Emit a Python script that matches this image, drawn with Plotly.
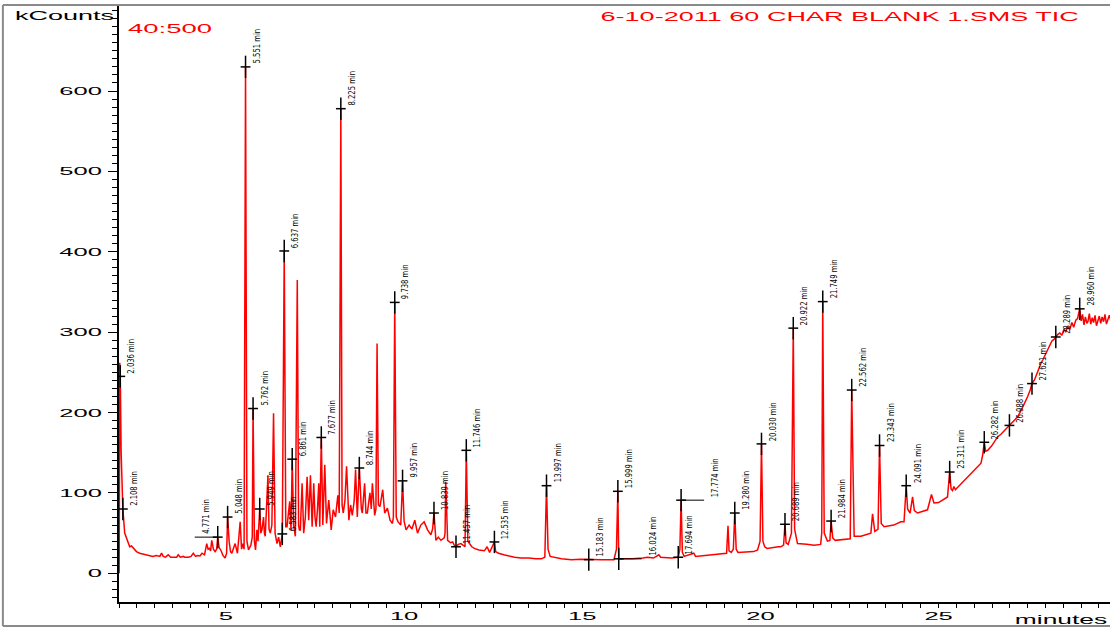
import plotly.graph_objects as go

# ---- TIC trace: retention time (minutes) and intensity (kCounts) ----
trace_t = [
    2.005, 2.012, 2.022, 2.060, 2.085, 2.16, 2.254, 2.30, 2.35, 2.42, 2.49, 2.58, 2.668, 2.76,
    2.865, 2.95, 3.05, 3.146, 3.194, 3.24, 3.30, 3.38, 3.45, 3.55, 3.617, 3.662, 3.72, 3.80,
    3.85, 3.95, 4.02, 4.085, 4.15, 4.20, 4.273, 4.33, 4.40, 4.462, 4.50, 4.535, 4.57, 4.603,
    4.65, 4.696, 4.740, 4.81, 4.856, 4.92, 4.977, 5.02, 5.09, 5.130, 5.166, 5.259, 5.324,
    5.40, 5.44, 5.476, 5.51, 5.59, 5.634, 5.70, 5.74, 5.80, 5.831, 5.87, 5.90, 5.98, 6.011,
    6.056, 6.08, 6.104, 6.18, 6.21, 6.245, 6.29, 6.337, 6.38, 6.434, 6.48, 6.527, 6.68,
    6.715, 6.75, 6.789, 6.828, 6.90, 6.949, 7.003, 7.04, 7.062, 7.09, 7.138, 7.183, 7.23,
    7.279, 7.324, 7.372, 7.42, 7.465, 7.50, 7.532, 7.570, 7.606, 7.634, 7.72, 7.775, 7.823,
    7.887, 7.955, 8.011, 8.076, 8.141, 8.18, 8.26, 8.293, 8.34, 8.386, 8.451, 8.50, 8.546,
    8.60, 8.639, 8.687, 8.80, 8.828, 8.893, 8.93, 8.969, 9.042, 9.08, 9.11, 9.175, 9.21,
    9.242, 9.28, 9.324, 9.40, 9.456, 9.532, 9.606, 9.673, 9.70, 9.78, 9.831, 9.907, 10.00,
    10.056, 10.141, 10.22, 10.301, 10.377, 10.47, 10.563, 10.659, 10.752, 10.80, 10.893,
    10.96, 11.034, 11.127, 11.15, 11.169, 11.20, 11.222, 11.30, 11.363, 11.42, 11.52, 11.597,
    11.710, 11.79, 11.831, 11.90, 11.972, 12.10, 12.254, 12.33, 12.40, 12.57, 12.65, 12.80,
    12.913, 13.10, 13.287, 13.50, 13.70, 13.85, 13.95, 14.04, 14.10, 14.414, 14.70, 14.95,
    15.30, 15.55, 15.89, 15.96, 16.10, 16.40, 16.70, 16.83, 17.00, 17.15, 17.20, 17.50,
    17.74, 17.81, 17.86, 18.13, 18.18, 18.32, 18.70, 18.95, 19.05, 19.09, 19.12, 19.18,
    19.24, 19.32, 19.37, 19.70, 19.81, 19.92, 19.99, 20.07, 20.12, 20.19, 20.50, 20.57,
    20.65, 20.72, 20.78, 20.87, 20.96, 21.04, 21.30, 21.51, 21.69, 21.72, 21.79, 21.88,
    21.95, 22.03, 22.10, 22.25, 22.52, 22.63, 22.82, 23.10, 23.146, 23.21, 23.30, 23.39,
    23.47, 23.74, 23.94, 24.03, 24.13, 24.20, 24.27, 24.32, 24.41, 24.69, 24.80, 24.87,
    25.00, 25.15, 25.25, 25.35, 25.39, 25.43, 25.47, 25.60, 25.70, 25.82, 25.95, 26.05,
    26.19, 26.24, 26.32, 26.38, 26.48, 26.58, 26.66, 26.75, 26.85, 26.94, 27.05, 27.14,
    27.22, 27.32, 27.42, 27.50, 27.57, 27.69, 27.76, 27.82, 27.87, 27.93, 27.99, 28.06,
    28.12, 28.18, 28.24, 28.34, 28.40, 28.46, 28.52, 28.57, 28.62, 28.68, 28.74, 28.79,
    28.85, 28.90, 29.00, 29.04, 29.08, 29.12, 29.16, 29.19, 29.23, 29.27, 29.31, 29.35,
    29.39, 29.43, 29.47, 29.51, 29.55, 29.59, 29.63, 29.67, 29.71, 29.75, 29.79, 29.83,
]
trace_c = [
    0, 170, 262, 150, 100, 50, 37, 33, 34, 30, 27, 25, 24, 23,
    22, 21, 22, 21, 25, 21, 20, 23, 20, 20, 20, 23, 20, 21,
    20, 20, 21, 25, 21, 22, 21.5, 25, 23, 37, 30, 31, 28, 41,
    30, 27, 30, 32, 29, 22, 19, 25, 40, 27, 25, 37, 25,
    64, 30, 37, 30, 40, 29, 35, 45, 40, 29, 54, 40, 50, 54,
    70, 50, 46, 122, 55, 50, 60, 199, 50, 37, 45, 33, 58,
    58, 70, 89, 54, 60, 46, 365, 60, 54, 54, 112, 50, 70,
    120, 66, 122, 58, 112, 70, 58, 80, 112, 58, 60, 135, 62,
    91, 54, 79, 70, 97, 75, 85, 75, 90, 133, 66, 85, 72,
    90, 129, 70, 80, 75, 112, 75, 75, 100, 80, 112, 72, 80,
    286, 85, 83, 104, 75, 81, 66, 62, 70, 70, 64, 60, 65,
    54, 60, 55, 66, 50, 60, 64, 54, 48, 55, 41,
    45, 41, 44, 50, 114, 45, 41, 38, 39, 34, 36, 37,
    33, 40, 37, 33, 31, 29, 28, 33, 26, 27, 25, 23,
    21.5, 20, 19, 19, 18, 18, 20, 30, 21, 18, 17, 17.4,
    17, 17, 17, 30, 18, 18, 19, 20, 19, 23, 20, 19,
    30, 26, 21, 25, 21, 21.5, 23, 24, 25, 59, 28, 26,
    30, 30, 26, 27, 27, 29, 40, 40, 33, 31, 33, 33,
    35, 38, 36, 50, 55, 37, 36, 35, 36, 50, 50, 40,
    41, 44, 41, 41.5, 43, 46, 46, 50, 74, 52, 55, 62,
    58, 60, 64, 64, 80, 75, 95, 78, 75, 79, 98, 87.5,
    88, 92, 95, 105, 103, 108, 104, 110, 114, 120, 126, 131,
    137, 148, 152, 153, 158, 165, 170, 173, 178, 182.5, 187, 191,
    195, 203, 212, 220, 228, 240.6, 249, 255, 261, 266, 272, 278,
    283, 289, 291, 297, 299, 296, 304, 300, 307, 303, 312, 306,
    315, 317, 314, 322, 309, 319, 311, 313, 323, 310, 318, 312,
    321, 308, 315, 320, 311, 319, 313, 322, 310, 317, 321, 315,
]

# ---- integrated peaks (retention time, apex intensity) ----
peak_t = [
    2.036, 2.108, 4.771, 5.048, 5.551, 5.762, 5.949, 6.583, 6.637, 6.861,
    7.677, 8.225, 8.744, 9.738, 9.957, 10.839, 11.457, 11.746, 12.535, 13.997,
    15.183, 15.999, 16.024, 17.694, 17.774, 19.280, 20.030, 20.689, 20.922, 21.749,
    21.984, 22.562, 23.343, 24.091, 25.311, 26.282, 26.988, 27.621, 28.289, 28.960,
]
peak_c = [
    245, 80, 45, 70, 630, 205, 80, 49, 401, 142,
    169, 578, 131, 337, 115, 75, 33, 153, 39, 109,
    17, 102, 18, 20, 91, 75, 161, 61, 305, 338,
    65, 228, 159, 109, 126, 163, 184, 236, 294, 329,
]
peak_text = [f"{t:.3f} min" for t in peak_t]

# horizontal leader lines (pixels) for labels moved aside
leader_px = {4.771: -23, 16.024: 23, 17.774: 23}

y_ticks = [0, 100, 200, 300, 400, 500, 600]

RED = "#ff0000"

pts = sorted(zip(trace_t + peak_t, trace_c + peak_c))
all_t = [p[0] for p in pts]
all_c = [p[1] for p in pts]

fig = go.Figure()
fig.add_trace(go.Scatter(
    x=all_t, y=all_c, mode="lines",
    line=dict(color=RED, width=1.5), hoverinfo="skip", showlegend=False,
))
fig.add_trace(go.Scatter(
    x=peak_t, y=peak_c, mode="markers",
    marker=dict(symbol="line-ns-open", size=16, color="black",
                line=dict(color="black", width=1.5)),
    hoverinfo="skip", showlegend=False,
))
fig.add_trace(go.Scatter(
    x=peak_t, y=peak_c, mode="markers",
    marker=dict(symbol="line-ew-open", size=7, color="black",
                line=dict(color="black", width=1.5)),
    hoverinfo="skip", showlegend=False,
))

base_font = "Liberation Sans, Arial, sans-serif"
annotations = [
    dict(text="kCounts", x=-0.0545, y=0.9816, xref="paper", yref="paper",
         xanchor="center", yanchor="middle", showarrow=False,
         font=dict(family=base_font, size=12.3, color="black")),
    dict(text="40:500", x=0.051, y=0.9606, xref="paper", yref="paper",
         xanchor="center", yanchor="middle", showarrow=False,
         font=dict(family=base_font, size=12.5, color=RED)),
    dict(text="6-10-2011 60 CHAR BLANK 1.SMS TIC", x=0.7273, y=0.9807,
         xref="paper", yref="paper", xanchor="center", yanchor="middle", showarrow=False,
         font=dict(family=base_font, size=12.3, color=RED)),
    dict(text="minutes", x=0.9505, y=-0.030, xref="paper", yref="paper",
         xanchor="center", yanchor="middle", showarrow=False,
         font=dict(family=base_font, size=12, color="black")),
]
N_HEADER = len(annotations)

shapes = []
for t, c, s in zip(peak_t, peak_c, peak_text):
    dx = leader_px.get(t, 0)
    annotations.append(dict(
        text=s, x=t, y=c, xref="x", yref="y", textangle=-90,
        xanchor="left", yanchor="bottom", xshift=dx + 3, yshift=1, showarrow=False,
        font=dict(family="Liberation Sans Narrow, DejaVu Sans Condensed, Arial Narrow, sans-serif",
                  size=9.5, color="black"),
    ))
    if dx:
        shapes.append(dict(type="line", xref="x", yref="y", xsizemode="pixel", xanchor=t,
                           x0=0, x1=dx, y0=c, y1=c, line=dict(color="black", width=1)))

# outer frame of the report page
frame = dict(color="#8a8a8a", width=2)
fx0 = (3 - 119) / 990
fy0 = (602 - 626) / 597
shapes += [
    dict(type="line", xref="paper", yref="paper", x0=fx0, x1=1.0, y0=1.0, y1=1.0, line=frame),
    dict(type="line", xref="paper", yref="paper", x0=fx0, x1=fx0, y0=fy0, y1=1.0, line=frame),
    dict(type="line", xref="paper", yref="paper", x0=fx0, x1=1.0, y0=fy0, y1=fy0, line=frame),
]

fig.update_layout(
    width=1110, height=628, autosize=False,
    margin=dict(l=119, r=0, t=5, b=26),
    paper_bgcolor="white", plot_bgcolor="white",
    annotations=annotations, shapes=shapes,
    xaxis=dict(
        range=[2.0, 29.81], showgrid=False, zeroline=False,
        showline=True, linecolor="black", linewidth=1.5,
        tick0=0, dtick=5, ticks="outside", ticklen=4, tickcolor="black", tickwidth=1,
        ticklabelstandoff=-2,
        tickfont=dict(family=base_font, size=11.6, color="black"),
        minor=dict(dtick=0.5, tick0=0, ticks="outside", ticklen=4, tickcolor="black"),
    ),
    yaxis=dict(
        range=[-35.7, 707], showgrid=False, zeroline=False,
        showline=True, linecolor="black", linewidth=1.5,
        tickmode="array", tickvals=y_ticks, ticktext=[str(v) for v in y_ticks],
        ticks="outside", ticklen=9, tickcolor="black", tickwidth=1,
        ticklabelstandoff=4,
        tickfont=dict(family=base_font, size=11.6, color="black"),
        minor=dict(tickmode="linear", dtick=10, tick0=0, ticks="outside", ticklen=5,
                   tickcolor="black"),
    ),
)

# widen the header/axis text horizontally, narrow the peak labels along their length
widen_js = """
var gd = document.getElementById('{plot_id}');
function stretch(el, mode, k) {
  var b = el.getBBox();
  var cx = mode === 'end' ? b.x + b.width : (mode === 'start' ? b.x : b.x + b.width / 2);
  var t = el.getAttribute('transform') || '';
  el.setAttribute('transform', t + ' translate(' + cx + ',0) scale(' + k + ',1) translate(' + (-cx) + ',0)');
}
gd.querySelectorAll('.ytick text').forEach(function(el){ stretch(el, 'end', 2.2); });
gd.querySelectorAll('.xtick text').forEach(function(el){ stretch(el, 'middle', 2.2); });
gd.querySelectorAll('g.annotation').forEach(function(g){
  var el = g.querySelector('text');
  if (!el) { return; }
  if (+g.getAttribute('data-index') < %d) { stretch(el, 'middle', 2.2); }
  else { stretch(el, 'start', 0.8); }
});
""" % N_HEADER

fig.write_html("out.html", post_script=widen_js)
